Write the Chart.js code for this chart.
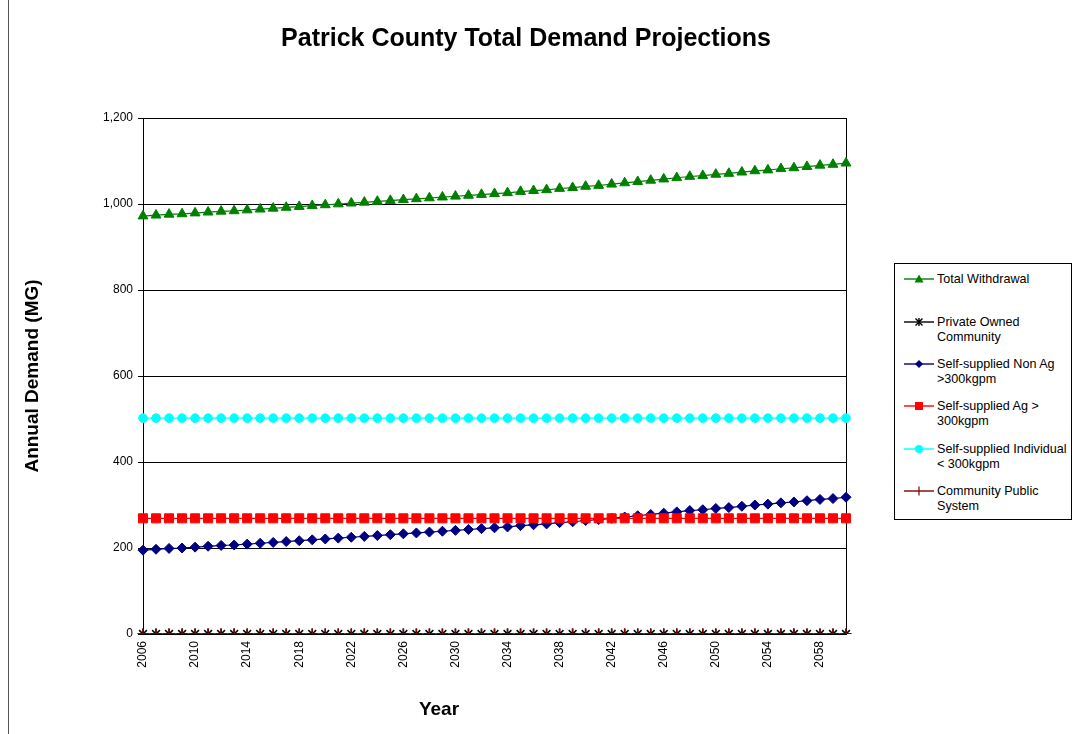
<!DOCTYPE html>
<html><head><meta charset="utf-8">
<script src="https://cdn.jsdelivr.net/npm/chart.js@4.4.0/dist/chart.umd.min.js"></script>
<style>
body{margin:0;background:#fff;}
#wrap{position:relative;width:1072px;height:734px;overflow:hidden;font-family:Arial,"Liberation Sans",sans-serif;color:#000;}
#frame{position:absolute;left:8px;top:0;width:1px;height:734px;background:#555;}
#title{position:absolute;left:0;width:1052px;top:21px;text-align:center;font-weight:bold;font-size:25px;line-height:32px;}
#xtitle{position:absolute;left:339px;width:200px;top:697px;text-align:center;font-weight:bold;font-size:19px;line-height:24px;}
#legend{position:absolute;left:894px;top:263px;width:176px;height:255px;border:1px solid #000;background:#fff;}
.li{position:absolute;left:0;width:176px;}
.li svg{position:absolute;left:8px;top:0;}
.li div{position:absolute;left:42px;top:0;font-size:12.6px;line-height:15px;white-space:nowrap;}
canvas{position:absolute;left:0;top:0;}
</style></head>
<body>
<div id="wrap">
<canvas id="c" width="1072" height="734"></canvas>
<div id="frame"></div>
<div id="title">Patrick County Total Demand Projections</div>
<div id="xtitle">Year</div>
<div id="legend"></div>
</div>
<script>
const years = ["2006","2007","2008","2009","2010","2011","2012","2013","2014","2015","2016","2017","2018","2019","2020","2021","2022","2023","2024","2025","2026","2027","2028","2029","2030","2031","2032","2033","2034","2035","2036","2037","2038","2039","2040","2041","2042","2043","2044","2045","2046","2047","2048","2049","2050","2051","2052","2053","2054","2055","2056","2057","2058","2059","2060"];

const totalWithdrawal = [972,974,976,977,979,981,983,984,986,988,990,992,994,996,998,1000,1002,1004,1006,1008,1010,1012,1014,1016,1018,1020,1022,1024,1026,1029,1031,1033,1036,1038,1041,1043,1046,1049,1052,1055,1058,1061,1064,1066,1069,1071,1074,1077,1079,1082,1084,1087,1090,1092,1095];

const privateOwnedCommunity = [0,0,0,0,0,0,0,0,0,0,0,0,0,0,0,0,0,0,0,0,0,0,0,0,0,0,0,0,0,0,0,0,0,0,0,0,0,0,0,0,0,0,0,0,0,0,0,0,0,0,0,0,0,0,0];

const selfSuppliedNonAg = [195,197,199,200,202,204,206,207,209,211,213,215,217,219,221,223,225,227,229,231,233,235,237,239,241,243,245,247,249,252,254,256,259,261,264,266,269,272,275,278,281,284,287,289,292,294,297,300,302,305,307,310,313,315,318];

const selfSuppliedAg = [269,269,269,269,269,269,269,269,269,269,269,269,269,269,269,269,269,269,269,269,269,269,269,269,269,269,269,269,269,269,269,269,269,269,269,269,269,269,269,269,269,269,269,269,269,269,269,269,269,269,269,269,269,269,269];

const selfSuppliedIndividual = [502,502,502,502,502,502,502,502,502,502,502,502,502,502,502,502,502,502,502,502,502,502,502,502,502,502,502,502,502,502,502,502,502,502,502,502,502,502,502,502,502,502,502,502,502,502,502,502,502,502,502,502,502,502,502];

const communityPublicSystem = [0,0,0,0,0,0,0,0,0,0,0,0,0,0,0,0,0,0,0,0,0,0,0,0,0,0,0,0,0,0,0,0,0,0,0,0,0,0,0,0,0,0,0,0,0,0,0,0,0,0,0,0,0,0,0];

const yTicks = {min: 0, max: 1200, step: 200};
const xLabelEvery = 4;

const series = [
  {name: ["Total Withdrawal"], data: totalWithdrawal, color: "#008000", style: "triangle", r: 5.7},
  {name: ["Private Owned", "Community"], data: privateOwnedCommunity, color: "#000000", style: "star", r: 5.5},
  {name: ["Self-supplied Non Ag", ">300kgpm"], data: selfSuppliedNonAg, color: "#000080", style: "rectRot", r: 5},
  {name: ["Self-supplied Ag >", "300kgpm"], data: selfSuppliedAg, color: "#ff0000", style: "rect", r: 6.4},
  {name: ["Self-supplied Individual", "< 300kgpm"], data: selfSuppliedIndividual, color: "#00ffff", style: "circle", r: 4.3},
  {name: ["Community Public", "System"], data: communityPublicSystem, color: "#800000", style: "cross", r: 5.5}
];

const framePlugin = {
  id: 'frame',
  beforeDatasetsDraw(chart) {
    const a = chart.chartArea, ctx = chart.ctx;
    ctx.save();
    ctx.strokeStyle = '#000';
    ctx.lineWidth = 1;
    ctx.strokeRect(Math.round(a.left) + 0.5, Math.round(a.top) + 0.5, Math.round(a.right - a.left), Math.round(a.bottom - a.top));
    ctx.restore();
  }
};

new Chart(document.getElementById('c'), {
  type: 'line',
  data: {
    labels: years,
    datasets: series.map((s, i) => ({
      label: s.name.join(' '),
      data: s.data,
      borderColor: s.color,
      backgroundColor: s.color,
      pointBackgroundColor: s.color,
      pointBorderColor: s.color,
      pointStyle: s.style,
      pointRadius: s.r,
      pointBorderWidth: (s.style === 'star' || s.style === 'cross') ? 1.5 : 1,
      borderWidth: 1.2,
      fill: false,
      tension: 0,
      order: series.length - i
    }))
  },
  options: {
    responsive: false,
    animation: false,
    layout: {padding: {left: 10, right: 226, top: 118, bottom: 0}},
    plugins: {legend: {display: false}, tooltip: {enabled: false}, title: {display: false}},
    scales: {
      x: {
        offset: false,
        grid: {display: false, drawTicks: false},
        border: {display: true, color: '#000', width: 1},
        ticks: {
          autoSkip: false, maxRotation: 90, minRotation: 90, padding: 7,
          color: '#000', font: {family: 'Arial, "Liberation Sans"', size: 12},
          callback: function(v, i) { return i % xLabelEvery === 0 ? this.getLabelForValue(v) : ''; }
        },
        afterFit(scale) { scale.height = 100; }
      },
      y: {
        min: yTicks.min, max: yTicks.max,
        grid: {color: '#000', lineWidth: 1, tickLength: 5, drawTicks: true},
        border: {display: true, color: '#000', width: 1},
        ticks: {stepSize: yTicks.step, padding: 5, color: '#000', font: {family: 'Arial, "Liberation Sans"', size: 12}},
        title: {display: true, text: 'Annual Demand (MG)', color: '#000', font: {family: 'Arial, "Liberation Sans"', size: 19, weight: 'bold'}, padding: {top: 11, bottom: 0}},
        afterFit(scale) { scale.width = 133; }
      }
    }
  },
  plugins: [framePlugin]
});

// HTML legend built from the series list
function markerSvg(s) {
  const c = s.color, cx = 16, cy = 7;
  let m = '';
  if (s.style === 'triangle') m = `<polygon points="${cx},${cy-4.5} ${cx+4.5},${cy+3.5} ${cx-4.5},${cy+3.5}" fill="${c}"/>`;
  else if (s.style === 'star') m = `<path d="M${cx-3.5} ${cy-3.5}L${cx+3.5} ${cy+3.5}M${cx+3.5} ${cy-3.5}L${cx-3.5} ${cy+3.5}M${cx} ${cy-4}L${cx} ${cy+4}" stroke="${c}" stroke-width="1.4"/>`;
  else if (s.style === 'rectRot') m = `<polygon points="${cx},${cy-4} ${cx+4},${cy} ${cx},${cy+4} ${cx-4},${cy}" fill="${c}"/>`;
  else if (s.style === 'rect') m = `<rect x="${cx-4}" y="${cy-4}" width="8" height="8" fill="${c}"/>`;
  else if (s.style === 'circle') m = `<circle cx="${cx}" cy="${cy}" r="4" fill="${c}"/>`;
  else if (s.style === 'cross') m = `<path d="M${cx} ${cy-4.5}L${cx} ${cy+4.5}" stroke="${c}" stroke-width="1.2"/>`;
  return `<svg width="32" height="14" viewBox="0 0 32 14"><line x1="1" y1="${cy}" x2="31" y2="${cy}" stroke="${c}" stroke-width="1.4"/>${m}</svg>`;
}
const legendTops = [15, 58, 100, 142, 185, 227];
const lg = document.getElementById('legend');
series.forEach((s, i) => {
  const d = document.createElement('div');
  d.className = 'li';
  d.style.top = (legendTops[i] - 7.5) + 'px';
  d.innerHTML = markerSvg(s).replace('<svg', '<svg style="top:0.5px"') + `<div>${s.name.map(t => t.replace(/&/g,'&amp;').replace(/</g,'&lt;').replace(/>/g,'&gt;')).join('<br>')}</div>`;
  lg.appendChild(d);
});
</script>
</body></html>
